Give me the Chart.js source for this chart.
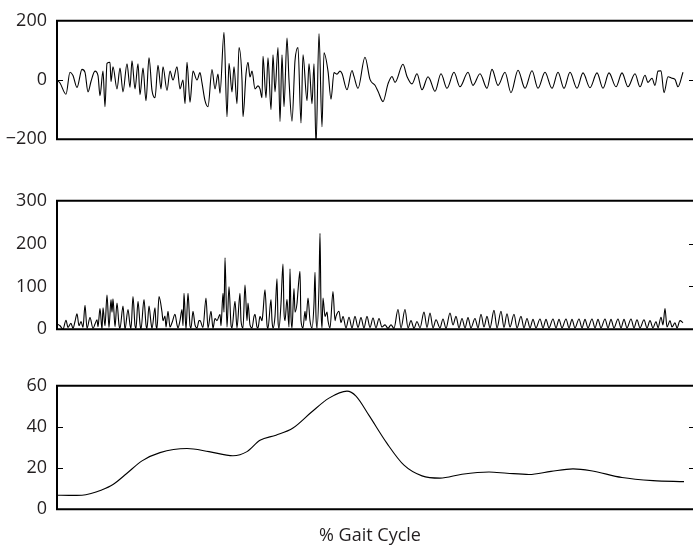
<!DOCTYPE html>
<html>
<head>
<meta charset="utf-8">
<script src="https://cdn.jsdelivr.net/npm/chart.js@4.4.1/dist/chart.umd.min.js"></script>
<style>
  html, body { margin: 0; padding: 0; background: #fff; overflow: hidden; }
  body { width: 693px; height: 545px; position: relative; }
  .panel { position: absolute; left: 0; }
  #xlabel { position: absolute; left: 0; width: 740px; top: 524px; text-align: center;
            font-family: "Open Sans", sans-serif; font-size: 18px; color: #231f20; line-height: 20px; }
</style>
</head>
<body>
<div class="panel" style="top:0px"><canvas id="c1" width="700" height="160"></canvas></div>
<div class="panel" style="top:180px"><canvas id="c2" width="700" height="170"></canvas></div>
<div class="panel" style="top:365px"><canvas id="c3" width="700" height="165"></canvas></div>
<div id="xlabel">% Gait Cycle</div>
<script>
// ---- Data (sample index along the gait cycle, value) ----
const rawSample = [0,3,9,13,16,20,25,28,31,34,38,41,43,46,48,50,53,54,56,60,63,66,70,73,75,78,81,83,86,89,92,95,98,101,104,106,110,113,116,120,123,126,128,130,133,136,140,143,145,148,151,155,158,161,163,167,170,172,175,177,180,182,185,186,189,191,193,195,198,201,203,205,206,209,211,214,216,218,221,223,225,227,230,232,235,238,241,244,246,250,252,255,257,259,262,265,267,271,274,277,280,283,285,290,295,297,301,308,313,318,321,326,331,335,338,346,350,355,360,365,371,373,378,384,390,397,403,411,416,423,430,435,441,448,454,461,468,475,481,488,495,501,507,513,520,526,533,540,546,552,559,565,571,578,583,588,591,595,598,601,604,607,611,615,618,621,626];
const rawEMG = [0,-10,-48,26,15,-25,36,26,-40,-5,30,15,-53,30,-90,56,60,-5,45,-30,40,-40,55,-25,65,-30,55,-50,40,-70,75,-35,-60,50,-30,45,-35,30,0,45,-30,0,-80,60,-75,30,0,25,-10,-70,-90,35,-30,20,-45,161,-124,56,-40,45,-80,110,0,-124,20,60,10,30,-30,-20,-30,-60,80,-60,75,-100,85,-40,110,-140,85,-90,142,0,-139,65,110,-145,85,-70,55,-80,55,-222,157,-158,92,30,-65,25,20,30,22,-33,32,12,-28,77,2,-18,-38,-73,-13,12,-8,53,12,-13,21,-33,11,2,-38,21,-28,26,-23,26,-18,21,-28,36,-18,26,-43,33,-28,31,-28,26,-28,26,-28,26,-28,24,-26,24,-28,24,-23,24,-23,21,-23,16,-8,6,-18,30,31,-43,11,6,2,-23,26];

const rectSample = [0,3,6,9,11,14,16,18,20,22,24,26,28,30,33,36,38,40,41,43,45,46,48,50,52,54,55,56,58,60,62,63,66,68,71,73,74,76,78,79,81,83,84,87,89,90,92,94,95,98,99,100,102,105,106,108,109,111,113,115,118,120,121,123,125,126,127,129,131,133,134,136,138,140,142,143,146,149,151,154,156,158,160,163,164,166,167,168,170,172,174,175,178,180,183,184,186,188,190,191,193,195,197,198,200,201,203,205,206,208,210,211,214,215,216,218,220,221,222,224,226,227,228,230,232,233,234,235,237,238,240,241,243,244,246,248,249,251,253,255,257,258,259,260,262,263,264,265,266,268,270,271,273,276,278,279,282,284,286,289,292,295,298,301,304,307,310,313,316,319,322,325,328,331,334,337,341,344,348,351,354,357,360,363,367,370,373,376,379,383,386,389,393,396,399,402,405,408,411,414,418,421,424,427,430,433,437,440,444,447,450,453,457,460,464,467,470,473,476,479,483,486,489,492,496,499,502,505,509,512,515,518,522,525,528,531,535,538,541,544,548,551,554,557,561,564,567,570,574,577,580,583,587,590,593,596,599,601,604,606,608,610,613,615,618,620,623,626];
const rectEMG = [12,8,0,21,4,14,2,18,36,8,18,4,56,2,27,2,12,22,6,48,0,50,8,80,4,69,40,71,6,61,10,2,54,0,46,10,2,76,8,2,65,12,0,69,10,2,54,15,2,50,10,2,76,40,20,31,5,42,5,15,35,10,3,20,46,8,84,0,84,8,3,42,10,3,20,20,4,73,3,42,2,25,20,35,8,84,40,167,5,99,10,3,65,3,84,20,3,103,20,61,10,3,30,35,5,3,30,20,40,92,10,2,69,20,3,30,118,20,2,60,152,40,20,70,5,141,30,3,95,40,60,90,135,20,3,42,20,73,20,3,60,133,30,3,100,224,50,3,73,30,40,20,3,88,20,30,42,15,30,3,28,3,30,4,27,3,30,4,26,3,25,5,10,2,10,2,46,3,46,3,20,2,18,3,40,4,38,3,22,3,24,2,38,10,30,3,25,3,27,3,25,3,35,5,30,3,44,3,42,4,36,5,35,3,30,3,25,3,23,3,24,3,23,3,24,3,23,3,24,3,23,3,24,3,23,3,24,3,23,3,24,3,23,3,24,3,23,3,24,3,22,3,22,3,20,3,18,3,28,10,48,5,20,5,15,3,20,15];

const envSample = [0,12,25,34,44,56,70,85,103,130,152,176,190,203,219,236,254,272,290,299,312,330,347,365,383,405,432,450,472,494,516,534,565,596,627];
const envEMG = [6.8,6.7,6.8,7.6,9.2,12,17.5,23.5,27.5,29.5,28,26,28,33.5,36,39.5,47,54,57.4,55,45.6,32,21.4,16.2,15.1,17,18.1,17.5,16.9,18.4,19.6,18.7,15.4,13.9,13.4];

const rawTicks = [-200, 0, 200];
const rectTicks = [0, 100, 200, 300];
const envTicks = [0, 20, 40, 60];

// ---- Rendering ----
Chart.defaults.font.family = '"Open Sans", sans-serif';
Chart.defaults.font.size = 18;
Chart.defaults.color = '#231f20';

const framePlugin = {
  id: 'frame',
  afterDatasetsDraw(chart, args, opts) {
    const { ctx, chartArea: { left, top, right, bottom } } = chart;
    const ys = chart.scales.y;
    ctx.save();
    ctx.strokeStyle = '#000';
    ctx.lineWidth = 2;
    ctx.beginPath();
    ctx.moveTo(left - 1, top); ctx.lineTo(chart.width, top);
    ctx.moveTo(left - 1, bottom); ctx.lineTo(chart.width, bottom);
    ctx.moveTo(left, top); ctx.lineTo(left, bottom);
    ctx.stroke();
    ctx.lineWidth = 1;
    ctx.beginPath();
    (opts.leftTicks || []).forEach(v => {
      const y = Math.round(ys.getPixelForValue(v)) + 0.5;
      ctx.moveTo(left, y); ctx.lineTo(left + 6, y);
    });
    (opts.rightTicks || []).forEach(v => {
      const y = Math.round(ys.getPixelForValue(v)) + 0.5;
      ctx.moveTo(right - 6, y); ctx.lineTo(right, y);
    });
    ctx.stroke();
    ctx.restore();
  }
};

function makePanel(id, xs, ys, yMin, yMax, tickVals, pad, leftTicks, rightTicks) {
  const data = xs.map((x, i) => ({ x: x, y: ys[i] }));
  return new Chart(document.getElementById(id), {
    type: 'line',
    data: { datasets: [{
      data: data,
      borderColor: '#000',
      borderWidth: 1.1,
      pointRadius: 0,
      cubicInterpolationMode: 'monotone',
      fill: false
    }]},
    options: {
      responsive: false,
      animation: false,
      layout: { padding: { left: 0, right: 5, top: pad[0], bottom: pad[1] } },
      plugins: { legend: { display: false }, tooltip: { enabled: false },
                 frame: { leftTicks: leftTicks, rightTicks: rightTicks } },
      scales: {
        x: { type: 'linear', min: 0, max: 638, display: false },
        y: {
          min: yMin, max: yMax,
          afterFit(scale) { scale.width = 57; },
          afterBuildTicks(scale) { scale.ticks = tickVals.map(v => ({ value: v })); },
          grid: { display: false, drawTicks: false },
          border: { display: false },
          ticks: {
            padding: 10,
            callback: (v) => (v < 0 ? '\u2212' + Math.abs(v) : String(v))
          }
        }
      }
    },
    plugins: [framePlugin]
  });
}

makePanel('c1', rawSample, rawEMG, -200, 200, rawTicks, [14, 13], [0], [0]);
makePanel('c2', rectSample, rectEMG, 0, 300, rectTicks, [20, 18], [], [100, 200]);
makePanel('c3', envSample, envEMG, 0, 60, envTicks, [20, 13], [20, 40], [20, 40]);
</script>
</body>
</html>
